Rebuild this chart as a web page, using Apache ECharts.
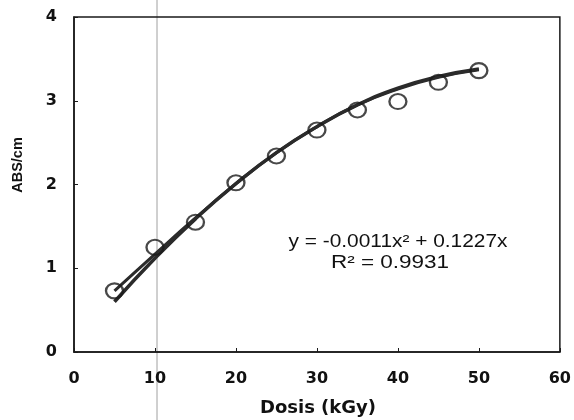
<!DOCTYPE html>
<html>
<head>
<meta charset="utf-8">
<script src="https://cdn.jsdelivr.net/npm/echarts@6/dist/echarts.min.js"></script>
<style>
  html, body { margin: 0; padding: 0; background: #fff; }
  #main { width: 574px; height: 420px; }
</style>
</head>
<body>
<div id="main"></div>
<script>
// measured points (dose in kGy, absorbance per cm)
const doses = [5, 10, 15, 20, 25, 30, 35, 40, 45, 50];
const absValues = [0.73, 1.25, 1.55, 2.02, 2.34, 2.65, 2.89, 2.99, 3.22, 3.36];
// polynomial trendline as it reads off the picture
const trendValues = [0.60, 1.12, 1.59, 2.01, 2.38, 2.69, 2.95, 3.15, 3.29, 3.38];
// second fitted curve, starts at the first point and merges into the trend
const fitValues = [0.73, 1.17, 1.60, 2.01, 2.38, 2.69, 2.95, 3.14, 3.28, 3.37];
const xTicks = [0, 10, 20, 30, 40, 50, 60];
const yTicks = [0, 1, 2, 3, 4];
const equationText = "y = -0.0011x\u00b2 + 0.1227x";
const r2Text = "R\u00b2 = 0.9931";

var chartDom = document.getElementById("main");
var myChart = echarts.init(chartDom);
var option;

const arial = "'Liberation Sans', Arial, sans-serif";
const dejavu = "'DejaVu Sans', sans-serif";

option = {
  animation: false,
  backgroundColor: "#fff",
  grid: {
    left: 74,
    right: 13,
    top: 17,
    bottom: 68,
    show: true,
    borderColor: "#1a1a1a",
    borderWidth: 1.5,
  },
  xAxis: {
    type: "value",
    min: xTicks[0],
    max: xTicks[xTicks.length - 1],
    interval: 10,
    axisLine: { show: true, lineStyle: { color: "#1a1a1a", width: 1.5 } },
    axisTick: { show: true, inside: true, length: 4, lineStyle: { color: "#1a1a1a" } },
    axisLabel: {
      margin: 19,
      fontFamily: dejavu,
      fontWeight: "bold",
      fontSize: 16,
      color: "#111",
    },
    splitLine: { show: false },
  },
  yAxis: {
    type: "value",
    min: yTicks[0],
    max: yTicks[yTicks.length - 1],
    interval: 1,
    axisLine: { show: true, lineStyle: { color: "#1a1a1a", width: 1.5 } },
    axisTick: { show: true, inside: true, length: 4, lineStyle: { color: "#1a1a1a" } },
    axisLabel: {
      margin: 17,
      fontFamily: dejavu,
      fontWeight: "bold",
      fontSize: 16,
      color: "#111",
    },
    splitLine: { show: false },
  },
  graphic: [
    {
      // scanner fold line
      type: "line",
      shape: { x1: 157, y1: 0, x2: 157, y2: 420 },
      style: { stroke: "#a0a0a0", lineWidth: 1 },
      z: -1,
    },
    {
      type: "text",
      x: 318,
      y: 408,
      style: {
        text: "Dosis (kGy)",
        font: "bold 18px " + dejavu,
        fill: "#111",
        textAlign: "center",
        textVerticalAlign: "middle",
      },
    },
    {
      type: "text",
      x: 18,
      y: 165,
      rotation: Math.PI / 2,
      style: {
        text: "ABS/cm",
        font: "bold 14.5px " + arial,
        fill: "#111",
        textAlign: "center",
        textVerticalAlign: "middle",
      },
    },
    {
      type: "text",
      x: 398,
      y: 242,
      scaleX: 1.16,
      style: {
        text: equationText,
        font: "18px " + arial,
        fill: "#111",
        textAlign: "center",
        textVerticalAlign: "middle",
      },
    },
    {
      type: "text",
      x: 390,
      y: 263,
      scaleX: 1.25,
      style: {
        text: r2Text,
        font: "18px " + arial,
        fill: "#111",
        textAlign: "center",
        textVerticalAlign: "middle",
      },
    },
  ],
  series: [
    {
      name: "Trend",
      type: "line",
      smooth: true,
      symbol: "none",
      data: doses.map((d, i) => [d, trendValues[i]]),
      lineStyle: { color: "#2b2b2b", width: 3.5 },
      z: 2,
    },
    {
      name: "Fit",
      type: "line",
      smooth: true,
      symbol: "none",
      data: doses.map((d, i) => [d, fitValues[i]]),
      lineStyle: { color: "#2b2b2b", width: 3 },
      z: 2,
    },
    {
      name: "ABS",
      type: "scatter",
      symbol: "circle",
      symbolSize: [17, 15],
      data: doses.map((d, i) => [d, absValues[i]]),
      itemStyle: {
        color: "rgba(255,255,255,0)",
        borderColor: "#1a1a1a",
        borderWidth: 2.2,
      },
      z: 3,
    },
  ],
};

option && myChart.setOption(option);
</script>
</body>
</html>
